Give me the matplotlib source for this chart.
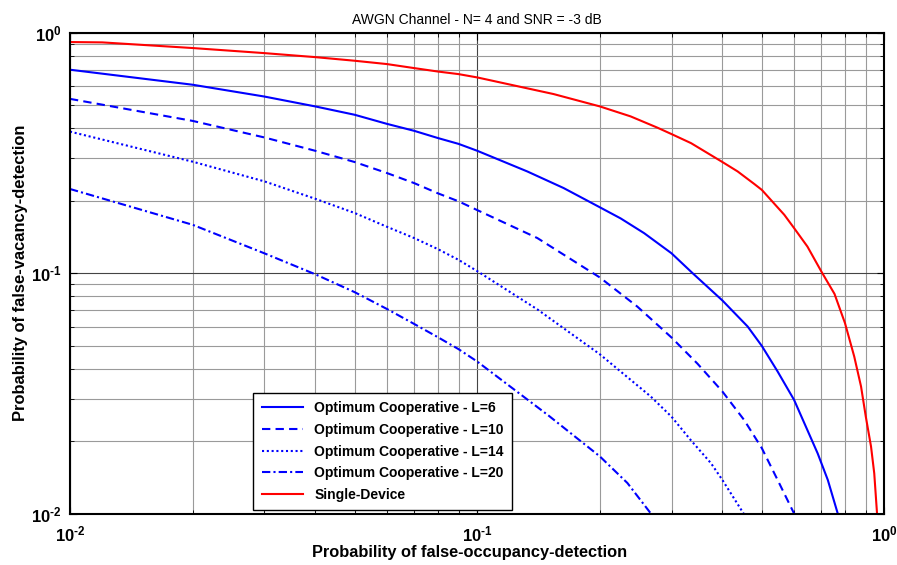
import numpy as np
import matplotlib
matplotlib.use("Agg")
import matplotlib.pyplot as plt
from matplotlib.ticker import LogLocator, NullFormatter, FixedLocator

plt.rcParams['font.family'] = ['Liberation Sans', 'DejaVu Sans']
plt.rcParams['mathtext.fontset'] = 'custom'
plt.rcParams['mathtext.rm'] = 'Liberation Sans:bold'
plt.rcParams['mathtext.it'] = 'Liberation Sans:bold'
plt.rcParams['mathtext.bf'] = 'Liberation Sans:bold'

# values (x: false-occupancy, y: false-vacancy)
x_l6 = [0.01, 0.02, 0.03, 0.04, 0.05, 0.06, 0.07, 0.08, 0.09, 0.1, 0.1327, 0.163, 0.2, 0.225,
        0.257, 0.3, 0.338, 0.4, 0.4614, 0.5, 0.5466, 0.6, 0.6855, 0.726, 0.768]
y_l6 = [0.702, 0.608, 0.543, 0.494, 0.456, 0.418, 0.391, 0.365, 0.345, 0.323, 0.265, 0.226, 0.188, 0.169,
        0.1467, 0.121, 0.1, 0.077, 0.060, 0.0498, 0.039, 0.0297, 0.0178, 0.0138, 0.01]

x_l10 = [0.01, 0.02, 0.03, 0.04, 0.05, 0.06, 0.07, 0.08, 0.09, 0.1, 0.1405, 0.2, 0.2473, 0.3,
         0.3476, 0.4, 0.4524, 0.5, 0.5466, 0.6]
y_l10 = [0.531, 0.430, 0.367, 0.323, 0.290, 0.261, 0.237, 0.215, 0.199, 0.183, 0.140, 0.096, 0.0726, 0.054,
         0.042, 0.0322, 0.0245, 0.0187, 0.0138, 0.01]

x_l14 = [0.01, 0.02, 0.03, 0.04, 0.05, 0.06, 0.07, 0.08, 0.09, 0.1, 0.1405, 0.2, 0.2667, 0.3,
         0.3346, 0.375, 0.4, 0.451]
y_l14 = [0.388, 0.291, 0.241, 0.204, 0.178, 0.156, 0.140, 0.126, 0.1136, 0.102, 0.0707, 0.046, 0.0307, 0.0253,
         0.0202, 0.0162, 0.0138, 0.01]

x_l20 = [0.01, 0.02, 0.03, 0.04, 0.05, 0.06, 0.07, 0.08, 0.09, 0.1, 0.15, 0.2, 0.2338, 0.267]
y_l20 = [0.224, 0.159, 0.121, 0.099, 0.0834, 0.071, 0.0615, 0.0542, 0.0483, 0.0429, 0.0255, 0.0173, 0.0134, 0.01]

x_single = [0.01, 0.012, 0.02, 0.03, 0.04, 0.05, 0.06, 0.07, 0.08, 0.09, 0.1, 0.154, 0.2, 0.238,
            0.277, 0.3, 0.335, 0.4, 0.436, 0.479, 0.5, 0.5675, 0.6, 0.647, 0.7, 0.754, 0.8,
            0.843, 0.876, 0.9, 0.927, 0.944, 0.959]
y_single = [0.915, 0.912, 0.864, 0.823, 0.792, 0.765, 0.741, 0.713, 0.690, 0.673, 0.652, 0.556, 0.494, 0.449,
            0.403, 0.379, 0.3475, 0.290, 0.265, 0.235, 0.222, 0.175, 0.154, 0.129, 0.1016, 0.082, 0.062,
            0.045, 0.0338, 0.0253, 0.019, 0.0147, 0.01]

labels = ['Optimum Cooperative - L=6', 'Optimum Cooperative - L=10',
          'Optimum Cooperative - L=14', 'Optimum Cooperative - L=20',
          'Single-Device']
decade_ticks = [0.01, 0.1, 1]
decade_labels = [r'$10^{\text{-}2}$', r'$10^{\text{-}1}$', r'$10^{0}$']

fig = plt.figure(figsize=(8.97, 5.65), dpi=100)
ax = fig.add_axes([0.078, 0.091, 0.908, 0.851])

ax.loglog(x_l6, y_l6, color='#0000ff', lw=1.5, ls='-', label=labels[0])
ax.loglog(x_l10, y_l10, color='#0000ff', lw=1.5, ls=(0, (4, 2.5)), label=labels[1])
ax.loglog(x_l14, y_l14, color='#0000ff', lw=1.5, ls=(0, (1, 1.3)), label=labels[2])
ax.loglog(x_l20, y_l20, color='#0000ff', lw=1.5, ls=(0, (4, 1.5, 1, 1.5)), label=labels[3])
ax.loglog(x_single, y_single, color='#ff0000', lw=1.5, ls='-', label=labels[4])

ax.set_xlim(0.01, 1)
ax.set_ylim(0.01, 1)

for axis in (ax.xaxis, ax.yaxis):
    axis.set_major_locator(FixedLocator(decade_ticks))
    axis.set_minor_locator(LogLocator(base=10, subs=np.arange(2, 10), numticks=10))
    axis.set_minor_formatter(NullFormatter())
ax.set_xticklabels(decade_labels)
ax.set_yticklabels(decade_labels)

ax.grid(True, which='major', color='#444444', lw=0.8, ls='-')
ax.grid(True, which='minor', color='#9a9a9a', lw=0.8, ls='-')
ax.set_axisbelow(True)

ax.tick_params(which='both', direction='in', top=True, right=True, labelsize=12)
ax.tick_params(which='major', length=5, width=0.8)
ax.tick_params(which='minor', length=3, width=0.6)
ax.tick_params(axis='x', pad=8)
ax.tick_params(axis='y', pad=6)
for s in ax.spines.values():
    s.set_linewidth(1.5)

ax.set_title('AWGN Channel - N= 4 and SNR = -3 dB', fontsize=10, pad=6.5)
ax.set_xlabel('Probability of false-occupancy-detection', fontsize=11.8, fontweight='bold')
ax.set_ylabel('Probability of false-vacancy-detection', fontsize=11.9, fontweight='bold')
ax.xaxis.set_label_coords(0.491, -0.066)
ax.yaxis.set_label_coords(-0.051, 0.5)

leg = ax.legend(loc='lower left', bbox_to_anchor=(0.225, 0.007), fancybox=False,
                edgecolor='black', framealpha=1, handlelength=3.0, labelspacing=0.55,
                borderpad=0.6, borderaxespad=0, prop={'weight': 'bold', 'size': 10})
leg.get_frame().set_linewidth(1.0)

fig.savefig('out.png', dpi=100)
